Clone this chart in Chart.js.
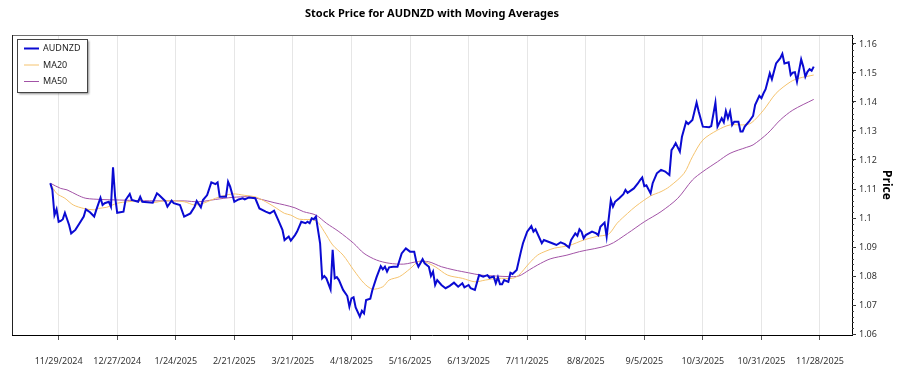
<!DOCTYPE html>
<html>
<head>
<meta charset="utf-8">
<script src="https://cdn.jsdelivr.net/npm/chart.js@4.4.1/dist/chart.umd.min.js"></script>
<style>
  body { margin: 0; background: #fff; }
</style>
</head>
<body>
<canvas id="priceChart" width="900" height="375"></canvas>
<script>
var ctx = document.getElementById('priceChart').getContext('2d');

// x tick labels (every 4 weeks) and y ticks
var tickDates = ['2024-11-29','2024-12-27','2025-01-24','2025-02-21','2025-03-21','2025-04-18','2025-05-16',
  '2025-06-13','2025-07-11','2025-08-08','2025-09-05','2025-10-03','2025-10-31','2025-11-28'];
var yTicks = [1.06, 1.07, 1.08, 1.09, 1.10, 1.11, 1.12, 1.13, 1.14, 1.15, 1.16];

var priceDates = [
  '2024-11-25','2024-11-26','2024-11-27','2024-11-28','2024-11-29','2024-11-30','2024-12-01','2024-12-02','2024-12-04','2024-12-05',
  '2024-12-07','2024-12-09','2024-12-11','2024-12-12','2024-12-14','2024-12-16','2024-12-17','2024-12-19','2024-12-20','2024-12-21',
  '2024-12-23','2024-12-24','2024-12-25','2024-12-26','2024-12-27','2024-12-30','2024-12-31','2025-01-02','2025-01-03','2025-01-06',
  '2025-01-07','2025-01-08','2025-01-13','2025-01-15','2025-01-16','2025-01-19','2025-01-20','2025-01-22','2025-01-23','2025-01-26',
  '2025-01-28','2025-01-31','2025-02-02','2025-02-03','2025-02-05','2025-02-06','2025-02-08','2025-02-10','2025-02-12','2025-02-13',
  '2025-02-14','2025-02-17','2025-02-18','2025-02-19','2025-02-21','2025-02-23','2025-02-25','2025-02-26','2025-02-28','2025-03-03',
  '2025-03-05','2025-03-08','2025-03-10','2025-03-12','2025-03-14','2025-03-16','2025-03-17','2025-03-19','2025-03-20','2025-03-22',
  '2025-03-23','2025-03-25','2025-03-27','2025-03-28','2025-03-29','2025-03-30','2025-03-31','2025-04-01','2025-04-03','2025-04-04',
  '2025-04-05','2025-04-06','2025-04-08','2025-04-09','2025-04-10','2025-04-11','2025-04-12','2025-04-14','2025-04-16','2025-04-17',
  '2025-04-18','2025-04-19','2025-04-20','2025-04-22','2025-04-23','2025-04-24','2025-04-25','2025-04-27','2025-04-28','2025-04-30',
  '2025-05-02','2025-05-03','2025-05-04','2025-05-05','2025-05-06','2025-05-08','2025-05-10','2025-05-12','2025-05-14','2025-05-16',
  '2025-05-18','2025-05-19','2025-05-20','2025-05-22','2025-05-23','2025-05-25','2025-05-26','2025-05-27','2025-05-28','2025-05-29',
  '2025-05-31','2025-06-02','2025-06-04','2025-06-06','2025-06-08','2025-06-10','2025-06-11','2025-06-13','2025-06-14','2025-06-16',
  '2025-06-18','2025-06-20','2025-06-22','2025-06-23','2025-06-25','2025-06-26','2025-06-27','2025-06-28','2025-06-29','2025-06-30',
  '2025-07-02','2025-07-03','2025-07-04','2025-07-06','2025-07-08','2025-07-09','2025-07-11','2025-07-13','2025-07-14','2025-07-15',
  '2025-07-18','2025-07-19','2025-07-23','2025-07-25','2025-07-27','2025-07-29','2025-07-31','2025-08-01','2025-08-03','2025-08-04',
  '2025-08-05','2025-08-06','2025-08-07','2025-08-08','2025-08-11','2025-08-13','2025-08-14','2025-08-15','2025-08-17','2025-08-18',
  '2025-08-20','2025-08-21','2025-08-22','2025-08-24','2025-08-26','2025-08-27','2025-08-28','2025-08-31','2025-09-02','2025-09-03',
  '2025-09-04','2025-09-05','2025-09-06','2025-09-08','2025-09-09','2025-09-11','2025-09-13','2025-09-15','2025-09-17','2025-09-18',
  '2025-09-19','2025-09-20','2025-09-22','2025-09-23','2025-09-25','2025-09-26','2025-09-28','2025-09-30','2025-10-01','2025-10-03',
  '2025-10-06','2025-10-07','2025-10-09','2025-10-10','2025-10-12','2025-10-13','2025-10-14','2025-10-15','2025-10-16','2025-10-17',
  '2025-10-18','2025-10-20','2025-10-21','2025-10-22','2025-10-23','2025-10-25','2025-10-27','2025-10-28','2025-10-30','2025-10-31',
  '2025-11-01','2025-11-02','2025-11-04','2025-11-05','2025-11-07','2025-11-09','2025-11-10','2025-11-11','2025-11-13','2025-11-14',
  '2025-11-15','2025-11-16','2025-11-17','2025-11-19','2025-11-20','2025-11-21','2025-11-22','2025-11-23','2025-11-24','2025-11-25'
];
var priceValues = [
  1.1120,1.1097,1.1010,1.1030,1.0987,1.0990,1.0996,1.1018,1.0976,1.0947,
  1.0959,1.0982,1.1005,1.1030,1.1020,1.1005,1.1028,1.1070,1.1045,1.1051,
  1.1056,1.1039,1.1175,1.1073,1.1018,1.1022,1.1062,1.1083,1.1062,1.1056,
  1.1073,1.1056,1.1053,1.1085,1.1079,1.1058,1.1039,1.1060,1.1051,1.1045,
  1.1005,1.1016,1.1039,1.1059,1.1037,1.1062,1.1079,1.1123,1.1117,1.1123,
  1.1073,1.1073,1.1125,1.1108,1.1056,1.1064,1.1068,1.1064,1.1071,1.1068,
  1.1033,1.1022,1.1016,1.1025,1.0993,1.0959,1.0924,1.0936,1.0922,1.0941,
  1.0953,1.0987,1.0982,1.0987,1.0982,1.0999,1.0996,1.1005,1.0913,1.0792,
  1.0800,1.0792,1.0754,1.0890,1.0792,1.0796,1.0786,1.0752,1.0731,1.0694,
  1.0723,1.0727,1.0692,1.0660,1.0680,1.0671,1.0717,1.0722,1.0752,1.0796,
  1.0834,1.0823,1.0832,1.0815,1.0830,1.0832,1.0832,1.0878,1.0895,1.0884,
  1.0884,1.0849,1.0832,1.0858,1.0844,1.0832,1.0800,1.0815,1.0769,1.0786,
  1.0769,1.0758,1.0766,1.0777,1.0763,1.0775,1.0761,1.0769,1.0758,1.0752,
  1.0803,1.0798,1.0803,1.0794,1.0798,1.0775,1.0796,1.0772,1.0772,1.0786,
  1.0780,1.0811,1.0807,1.0821,1.0884,1.0913,1.0953,1.0972,1.0953,1.0961,
  1.0913,1.0924,1.0913,1.0907,1.0916,1.0910,1.0898,1.0924,1.0947,1.0939,
  1.0961,1.0953,1.0930,1.0941,1.0953,1.0947,1.0941,1.0970,1.0984,1.0936,
  1.1062,1.1039,1.1056,1.1068,1.1082,1.1097,1.1087,1.1102,1.1120,1.1131,
  1.1140,1.1110,1.1113,1.1085,1.1120,1.1154,1.1166,1.1160,1.1148,1.1234,
  1.1245,1.1258,1.1229,1.1280,1.1332,1.1324,1.1338,1.1398,1.1367,1.1315,
  1.1313,1.1317,1.1398,1.1315,1.1344,1.1330,1.1369,1.1344,1.1367,1.1321,
  1.1332,1.1332,1.1298,1.1298,1.1315,1.1332,1.1352,1.1390,1.1421,1.1413,
  1.1430,1.1444,1.1499,1.1478,1.1533,1.1551,1.1566,1.1533,1.1537,1.1493,
  1.1501,1.1503,1.1470,1.1547,1.1522,1.1487,1.1504,1.1513,1.1508,1.1522
];

var ma20Dates = [
  '2024-11-25','2024-11-28','2024-12-02','2024-12-06','2024-12-11','2024-12-16','2024-12-18','2024-12-22','2024-12-27','2025-01-01',
  '2025-01-07','2025-01-13','2025-01-19','2025-01-28','2025-02-02','2025-02-07','2025-02-12','2025-02-20','2025-02-26','2025-03-03',
  '2025-03-08','2025-03-12','2025-03-17','2025-03-20','2025-03-24','2025-04-01','2025-04-05','2025-04-09','2025-04-14','2025-04-19',
  '2025-04-24','2025-04-28','2025-05-03','2025-05-06','2025-05-11','2025-05-16','2025-05-20','2025-05-23','2025-05-28','2025-06-03',
  '2025-06-10','2025-06-16','2025-06-21','2025-06-27','2025-07-04','2025-07-07','2025-07-12','2025-07-16','2025-07-20','2025-07-24',
  '2025-07-31','2025-08-07','2025-08-13','2025-08-19','2025-08-23','2025-08-28','2025-09-01','2025-09-08','2025-09-13','2025-09-17',
  '2025-09-24','2025-09-28','2025-10-03','2025-10-10','2025-10-16','2025-10-22','2025-10-26','2025-11-01','2025-11-07','2025-11-14',
  '2025-11-18','2025-11-25'
];
var ma20Values = [
  1.1120,1.1085,1.1068,1.1045,1.1033,1.1028,1.1033,1.1037,1.1051,1.1056,
  1.1059,1.1053,1.1060,1.1056,1.1045,1.1053,1.1068,1.1083,1.1078,1.1073,
  1.1056,1.1039,1.1016,1.1010,1.0996,1.0991,1.0953,1.0907,1.0872,1.0821,
  1.0775,1.0755,1.0763,1.0786,1.0798,1.0825,1.0850,1.0849,1.0832,1.0803,
  1.0792,1.0780,1.0786,1.0792,1.0792,1.0803,1.0844,1.0872,1.0886,1.0896,
  1.0905,1.0924,1.0936,1.0945,1.0982,1.1016,1.1041,1.1076,1.1091,1.1108,
  1.1154,1.1211,1.1269,1.1303,1.1321,1.1321,1.1327,1.1372,1.1430,1.1470,
  1.1482,1.1493
];

var ma50Dates = [
  '2024-11-25','2024-11-30','2024-12-03','2024-12-08','2024-12-12','2024-12-19','2024-12-28','2025-01-07','2025-01-16','2025-01-28',
  '2025-02-04','2025-02-12','2025-02-20','2025-02-28','2025-03-06','2025-03-12','2025-03-17','2025-03-22','2025-03-26','2025-04-01',
  '2025-04-06','2025-04-12','2025-04-19','2025-04-24','2025-04-30','2025-05-06','2025-05-13','2025-05-20','2025-05-25','2025-05-31',
  '2025-06-06','2025-06-13','2025-06-19','2025-06-26','2025-07-02','2025-07-07','2025-07-12','2025-07-16','2025-07-22','2025-07-30',
  '2025-08-05','2025-08-19','2025-08-28','2025-09-05','2025-09-13','2025-09-21','2025-09-28','2025-10-03','2025-10-10','2025-10-16',
  '2025-10-24','2025-10-27','2025-11-03','2025-11-09','2025-11-15','2025-11-25'
];
var ma50Values = [
  1.1120,1.1102,1.1097,1.1079,1.1068,1.1064,1.1062,1.1060,1.1059,1.1059,
  1.1056,1.1064,1.1071,1.1073,1.1064,1.1053,1.1045,1.1035,1.1022,1.1010,
  1.0982,1.0953,1.0913,1.0878,1.0855,1.0844,1.0841,1.0850,1.0849,1.0832,
  1.0821,1.0811,1.0803,1.0800,1.0798,1.0800,1.0821,1.0838,1.0859,1.0872,
  1.0884,1.0907,1.0947,1.0987,1.1022,1.1068,1.1131,1.1160,1.1194,1.1223,
  1.1244,1.1252,1.1292,1.1338,1.1372,1.1409
];

var fontFamily = "'Noto Sans', 'Open Sans', sans-serif";

function dayNum(s) {
  return Date.parse(s + 'T00:00:00Z') / 86400000;
}
function fmtDate(v) {
  var dt = new Date(Math.round(v) * 86400000);
  return (dt.getUTCMonth() + 1) + '/' + dt.getUTCDate() + '/' + dt.getUTCFullYear();
}
function toPoints(dates, vals) {
  var pts = [];
  for (var i = 0; i < dates.length; i++) {
    pts.push({ x: dayNum(dates[i]), y: vals[i] });
  }
  return pts;
}

var firstTick = dayNum(tickDates[0]);

// box legend in the top-left corner of the plot
var boxLegend = {
  id: 'boxLegend',
  afterDraw: function (chart) {
    var c = chart.ctx;
    var a = chart.chartArea;
    var x = a.left + 5, y = a.top + 4, w = 70, h = 53;
    c.save();
    c.shadowColor = 'rgba(0,0,0,0.45)';
    c.shadowOffsetX = 2;
    c.shadowOffsetY = 2;
    c.shadowBlur = 2;
    c.fillStyle = '#fff';
    c.fillRect(x, y, w, h);
    c.restore();
    c.save();
    c.strokeStyle = '#444';
    c.lineWidth = 1;
    c.strokeRect(x + 0.5, y + 0.5, w, h);
    c.font = '9px ' + fontFamily;
    c.textBaseline = 'middle';
    c.fillStyle = '#222';
    chart.data.datasets.forEach(function (ds, i) {
      var ly = y + 9.5 + i * 16.5;
      c.strokeStyle = ds.borderColor;
      c.lineWidth = ds.borderWidth;
      c.beginPath();
      c.moveTo(x + 7, ly);
      c.lineTo(x + 22, ly);
      c.stroke();
      c.fillText(ds.label, x + 26, ly);
    });
    c.restore();
  }
};

// top and left frame lines plus minor ticks on the price axis
var frame = {
  id: 'frame',
  afterDraw: function (chart) {
    var c = chart.ctx;
    var a = chart.chartArea;
    var ys = chart.scales.y;
    c.save();
    c.lineWidth = 1;
    c.strokeStyle = '#6e6e6e';
    c.beginPath();
    c.moveTo(a.left, a.top + 0.5);
    c.lineTo(a.right, a.top + 0.5);
    c.stroke();
    c.strokeStyle = '#222';
    c.beginPath();
    c.moveTo(a.left + 0.5, a.top);
    c.lineTo(a.left + 0.5, a.bottom);
    c.stroke();
    c.strokeStyle = '#444';
    for (var k = 0; k <= 51; k++) {
      var v = yTicks[0] + k * 0.002;
      var py = Math.round(ys.getPixelForValue(v)) + 0.5;
      if (py < a.top || py > a.bottom) continue;
      c.beginPath();
      c.moveTo(a.right, py);
      c.lineTo(a.right + 2, py);
      c.stroke();
    }
    c.restore();
  }
};

var chart = new Chart(ctx, {
  type: 'line',
  data: {
    datasets: [
      {
        label: 'AUDNZD',
        data: toPoints(priceDates, priceValues),
        borderColor: '#0a0ad2',
        borderWidth: 2,
        pointRadius: 0,
        tension: 0
      },
      {
        label: 'MA20',
        data: toPoints(ma20Dates, ma20Values),
        borderColor: '#f5c36e',
        borderWidth: 1,
        pointRadius: 0,
        tension: 0.3
      },
      {
        label: 'MA50',
        data: toPoints(ma50Dates, ma50Values),
        borderColor: '#a253a6',
        borderWidth: 1,
        pointRadius: 0,
        tension: 0.3
      }
    ]
  },
  options: {
    responsive: false,
    animation: false,
    layout: { padding: { left: 12, right: 0, top: 0, bottom: 0 } },
    plugins: {
      legend: { display: false },
      tooltip: { enabled: false },
      title: {
        display: true,
        fullSize: false,
        text: 'Stock Price for AUDNZD with Moving Averages',
        color: '#000',
        font: { family: fontFamily, size: 11, weight: 'bold' },
        padding: { top: 7.4, bottom: 14.4 }
      }
    },
    scales: {
      x: {
        type: 'linear',
        bounds: 'data',
        min: firstTick - 22.3,
        max: firstTick + 379.3,
        afterBuildTicks: function (scale) {
          scale.ticks = tickDates.map(function (d) { return { value: dayNum(d) }; });
        },
        afterFit: function (scale) { scale.height = 40; },
        ticks: {
          autoSkip: false,
          maxRotation: 0,
          minRotation: 0,
          padding: 15.6,
          color: '#333',
          font: { family: fontFamily, size: 9 },
          callback: function (v) { return fmtDate(v); }
        },
        grid: {
          color: '#e6e6e6',
          lineWidth: 1,
          tickLength: 5,
          tickColor: '#555'
        },
        border: { display: true, color: '#000', width: 1 }
      },
      y: {
        type: 'linear',
        position: 'right',
        bounds: 'data',
        min: 1.05966,
        max: 1.1631,
        afterBuildTicks: function (scale) {
          scale.ticks = yTicks.map(function (v) { return { value: v }; });
        },
        afterFit: function (scale) { scale.width = 48; },
        ticks: {
          padding: 3,
          color: '#333',
          font: { family: fontFamily, size: 9 },
          callback: function (v) { return String(Number(v.toFixed(2))); }
        },
        grid: {
          display: true,
          drawOnChartArea: false,
          tickLength: 4,
          tickColor: '#333'
        },
        border: { display: true, color: '#000', width: 1 },
        title: {
          display: true,
          text: 'Price',
          color: '#000',
          font: { family: fontFamily, size: 12, weight: 'bold' },
          padding: { top: 6, bottom: 0 }
        }
      }
    }
  },
  plugins: [boxLegend, frame]
});
</script>
</body>
</html>
